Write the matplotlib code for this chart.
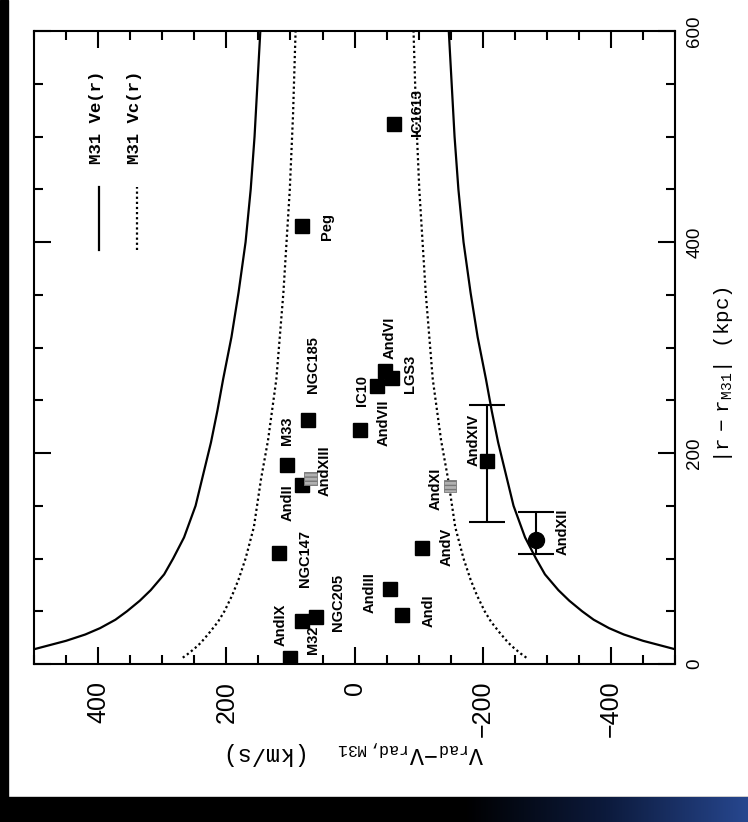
import numpy as np
import matplotlib
matplotlib.use('Agg')
import matplotlib.pyplot as plt
from matplotlib.ticker import MultipleLocator
from matplotlib.patches import Rectangle

plt.rcParams['font.family'] = ['Liberation Sans', 'DejaVu Sans']
plt.rcParams['mathtext.fontset'] = 'custom'
plt.rcParams['mathtext.rm'] = 'Liberation Mono'
plt.rcParams['mathtext.it'] = 'Liberation Mono'
plt.rcParams['hatch.color'] = '#444444'
plt.rcParams['hatch.linewidth'] = 1.0

# --- model curves (r in kpc, v in km/s) ---
r_ve = [14, 18, 22, 28, 34, 42, 50, 60, 70, 85, 100, 120, 150, 180, 210,
        240, 270, 310, 352, 400, 450, 500, 600]
ve = [500, 475, 450, 420, 397, 373, 355, 335, 318, 297, 283, 266, 248, 236,
      224, 214, 205, 192, 181, 170, 162, 156, 147]
r_vc = [6, 10, 15, 20, 30, 40, 50, 65, 80, 100, 130, 175, 212, 270, 352,
        450, 520, 600]
vc = [268, 259, 249, 240, 226, 213, 203, 191, 181, 170, 157, 146, 135, 122,
      111, 101, 96, 92]

# --- satellites: name, v_rad - v_rad,M31, |r - r_M31| ---
names = ['M32', 'AndIX', 'NGC205', 'NGC147', 'M33', 'AndII', 'NGC185', 'IC10',
         'AndVII', 'AndVI', 'LGS3', 'AndIII', 'AndI', 'AndV', 'Peg', 'IC1613']
v_sat = [101, 82, 60, 118, 105, 82, 72, -9, -35, -48, -58, -55, -74, -105, 82, -62]
r_sat = [6, 41, 45, 105, 189, 170, 231, 222, 264, 278, 271, 71, 46, 110, 415, 512]

# label anchor points (v, r)
lab_v = [65, 115, 26, 77, 105, 105, 65, -12, -45, -55, -87, -24, -115, -144, 43, -98]
lab_r = [23, 37, 58, 100, 221, 153, 284, 259, 229, 309, 275, 68, 51, 111, 415, 523]

# hatched (new) satellites
new_names = ['AndXIII', 'AndXI']
v_new = [69, -149]
r_new = [176, 169]
new_lab_v = [46, -126]
new_lab_r = [183, 166]

# AndXIV with distance error bar, AndXII with asymmetric error
v_14, r_14, r14_lo, r14_hi = -207, 192, 57, 54
v_12, r_12, r12_lo, r12_hi = -283, 118, 14, 26
lab14 = (-185, 212)
lab12 = (-325, 125)

fig = plt.figure(figsize=(7.48, 8.22), dpi=100)
ax = fig.add_axes([0.0455, 0.1922, 0.857, 0.770])

ve_a = np.array(ve)
vc_a = np.array(vc)
dots = (0, (1, 1.3))
ax.plot(ve_a, r_ve, color='black', lw=1.6)
ax.plot(-ve_a, r_ve, color='black', lw=1.6)
ax.plot(vc_a, r_vc, color='black', lw=1.6, ls=dots)
ax.plot(-vc_a, r_vc, color='black', lw=1.6, ls=dots)

ax.plot(v_sat, r_sat, 's', color='black', ms=9.4, ls='none')
ax.scatter(v_new, r_new, marker='s', s=80, facecolor='#b0b0b0',
           edgecolor='#777777', hatch='----', lw=0.6, zorder=3)

ax.errorbar([v_14], [r_14], yerr=[[r14_lo], [r14_hi]], fmt='s', color='black',
            ms=9.4, elinewidth=1.5, capsize=13, capthick=1.5)
ax.errorbar([v_12], [r_12], yerr=[[r12_lo], [r12_hi]], fmt='o', color='black',
            ms=11.5, elinewidth=1.5, capsize=13, capthick=1.5)

lab_kw = dict(rotation=90, ha='center', va='center', fontsize=10.5,
              fontweight='bold', family=['Liberation Sans', 'DejaVu Sans'])
for n, x, y in zip(names, lab_v, lab_r):
    ax.text(x, y, n, **lab_kw)
for n, x, y in zip(new_names, new_lab_v, new_lab_r):
    ax.text(x, y, n, **lab_kw)
ax.text(lab14[0], lab14[1], 'AndXIV', **lab_kw)
ax.text(lab12[0], lab12[1], 'AndXII', **lab_kw)

# legend drawn by hand, rotated like the rest of the page
ax.plot([0.1014, 0.1014], [0.654, 0.7535], transform=ax.transAxes,
        color='black', lw=1.6)
ax.plot([0.1607, 0.1607], [0.654, 0.7535], transform=ax.transAxes,
        color='black', lw=1.6, ls=dots)
leg_kw = dict(transform=ax.transAxes, rotation=90, rotation_mode='anchor',
              ha='left', va='center', fontsize=12.5, fontweight='bold',
              family=['Liberation Mono', 'DejaVu Sans Mono'])
ax.text(0.097, 0.79, 'M31 Ve(r)', **leg_kw)
ax.text(0.156, 0.79, 'M31 Vc(r)', **leg_kw)

ax.set_xlim(500, -500)
ax.set_ylim(0, 600)
ax.set_xticks([400, 200, 0, -200, -400])
ax.set_yticks([0, 200, 400, 600])
ax.xaxis.set_minor_locator(MultipleLocator(50))
ax.yaxis.set_minor_locator(MultipleLocator(50))
ax.tick_params(which='both', direction='in', top=True, bottom=True,
               left=True, right=True, labelleft=False, labelright=True,
               width=1.5)
ax.tick_params(which='major', length=12)
ax.tick_params(which='minor', length=6.5)
ax.tick_params(axis='x', labelsize=18, labelrotation=90, pad=12)
ax.tick_params(axis='y', labelsize=13.5, labelrotation=90, pad=8)
for lbl in ax.get_yticklabels():
    lbl.set_va('center')
for s in ax.spines.values():
    s.set_linewidth(1.5)

ax.set_xlabel(r'$\mathrm{V_{rad}\!-\!V_{rad,M31}}$  (km/s)', rotation=180,
              fontsize=17, family=['Liberation Mono', 'DejaVu Sans Mono'],
              va='center', ha='center')
ax.xaxis.set_label_coords(0.501, -0.139)
ax.yaxis.set_label_position('right')
ax.set_ylabel(r'$\mathrm{|r\ -\ r_{M31}|}$ (kpc)', rotation=90,
              fontsize=15, family=['Liberation Mono', 'DejaVu Sans Mono'],
              va='center', ha='center')
ax.yaxis.set_label_coords(1.075, 0.4566)

# black scan borders
fig.patches.append(Rectangle((0, 0), 0.011, 1, transform=fig.transFigure,
                             color='black', zorder=-1))
fig.patches.append(Rectangle((0, 0), 1, 0.031, transform=fig.transFigure,
                             color='black', zorder=-1))
gax = fig.add_axes([0.62, 0.0, 0.38, 0.031])
grad = np.linspace(0, 1, 256).reshape(1, -1)
gax.imshow(grad, aspect='auto', cmap=matplotlib.colors.LinearSegmentedColormap.from_list(
    'band', ['#000000', '#0c1a3c', '#27478f']), extent=[0, 1, 0, 1])
gax.axis('off')

fig.savefig('out.png', dpi=100)
